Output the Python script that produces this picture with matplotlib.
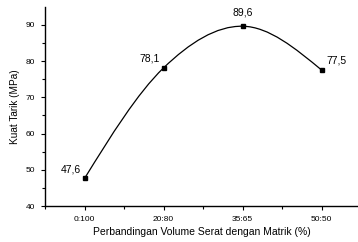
import numpy as np
import matplotlib.pyplot as plt
from matplotlib.path import Path
from matplotlib.patches import PathPatch
from matplotlib.ticker import MultipleLocator

plt.rcParams['font.family'] = ['Liberation Sans', 'DejaVu Sans']

# data
ratios = ['0:100', '20:80', '35:65', '50:50']
strength = [47.6, 78.1, 89.6, 77.5]
labels = ['47,6', '78,1', '89,6', '77,5']

x = np.arange(len(ratios), dtype=float)
y = np.array(strength)

fig = plt.figure(figsize=(3.58, 2.42), dpi=100)
ax = fig.add_axes([45 / 358, 36 / 242, 313 / 358, 199 / 242])

# smooth curve through the points (cubic bezier segments, natural ends)
pts = np.column_stack([x, y])
n = len(pts)
tang = np.zeros_like(pts)
for i in range(1, n - 1):
    tang[i] = (pts[i + 1] - pts[i - 1]) / 2
verts = [tuple(pts[0])]
codes = [Path.MOVETO]
for i in range(n - 1):
    p1, p2 = pts[i], pts[i + 1]
    c1 = p1 + tang[i] / 3
    c2 = p2 - tang[i + 1] / 3
    if i == 0:
        c1 = (p1 + c2) / 2
    if i == n - 2:
        c2 = (c1 + p2) / 2
    verts += [tuple(c1), tuple(c2), tuple(p2)]
    codes += [Path.CURVE4] * 3
ax.add_patch(PathPatch(Path(verts, codes), fill=False, color='black', lw=0.9))

ax.plot(x, y, 's', color='black', ms=3.5, zorder=3)

offsets = [(-10, 3), (-10, 3), (0, 6), (11, 3)]
for xi, yi, t, (dx, dy) in zip(x, y, labels, offsets):
    ax.annotate(t, (xi, yi), xytext=(dx, dy), textcoords='offset points',
                ha='center', va='bottom', fontsize=7.5)

ax.set_xlim(-0.5, 3.46)
ax.set_ylim(40, 94.9)
ax.set_xticks(x)
ax.set_xticklabels(ratios)
ax.xaxis.set_minor_locator(MultipleLocator(0.5))
ax.yaxis.set_major_locator(MultipleLocator(10))
ax.yaxis.set_minor_locator(MultipleLocator(5))
ax.tick_params(which='major', length=3, width=0.8, labelsize=6, pad=4)
ax.tick_params(which='minor', length=2, width=0.8)

for s in ['top', 'right']:
    ax.spines[s].set_visible(False)
ax.spines['left'].set_linewidth(1.0)
ax.spines['bottom'].set_linewidth(1.0)

ax.set_xlabel('Perbandingan Volume Serat dengan Matrik (%)', fontsize=7.5, labelpad=3)
ax.set_ylabel('Kuat Tarik (MPa)', fontsize=7.2, labelpad=4)

fig.savefig('out.png', dpi=100)
